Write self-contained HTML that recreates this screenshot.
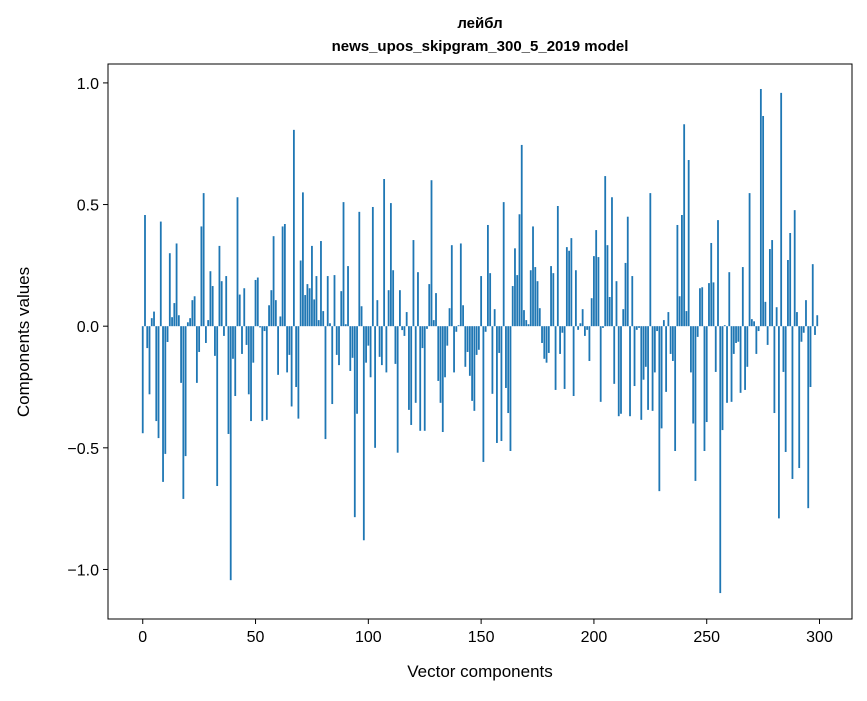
<!DOCTYPE html>
<html><head><meta charset="utf-8"><style>
body{margin:0;background:#fff;}
svg text{font-family:"Liberation Sans","DejaVu Sans",sans-serif;fill:#000;}
</style></head><body>
<svg id="chart" width="867" height="696" xmlns="http://www.w3.org/2000/svg">
<rect width="867" height="696" fill="#fff"/>
<text x="480" y="28" text-anchor="middle" font-size="15" font-weight="bold">лейбл</text>
<text x="480" y="51" text-anchor="middle" font-size="15" font-weight="bold">news_upos_skipgram_300_5_2019 model</text>
<g id="bars"></g>
<g id="axes"></g>
<text x="480" y="677" text-anchor="middle" font-size="17">Vector components</text>
<text transform="translate(29,342) rotate(-90)" text-anchor="middle" font-size="17">Components values</text>
</svg>
<script>
const values = [
-0.44,0.457,-0.09,-0.28,0.033,0.06,-0.39,-0.46,0.43,-0.64,
-0.525,-0.065,0.30,0.037,0.095,0.34,0.045,-0.233,-0.71,-0.534,
0.016,0.033,0.107,0.123,-0.233,-0.106,0.41,0.547,-0.069,0.025,
0.226,0.165,-0.122,-0.657,0.33,0.185,-0.04,0.206,-0.443,-1.044,
-0.134,-0.287,0.53,0.13,-0.114,0.156,-0.077,-0.28,-0.39,-0.15,
0.19,0.2,-0.005,-0.39,-0.02,-0.385,0.086,0.148,0.37,0.107,
-0.2,0.04,0.41,0.42,-0.19,-0.118,-0.33,0.807,-0.25,-0.38,
0.27,0.55,0.128,0.173,0.156,0.33,0.11,0.206,0.025,0.35,
0.062,-0.464,0.206,0.012,-0.32,0.21,-0.118,-0.16,0.144,0.51,
0.008,0.247,-0.184,-0.13,-0.785,-0.36,0.47,0.082,-0.88,-0.15,
-0.08,-0.21,0.49,-0.5,0.107,-0.126,-0.16,0.605,-0.19,0.148,
0.506,0.23,-0.155,-0.52,0.148,-0.016,-0.04,0.058,-0.344,-0.406,
0.354,-0.315,0.222,-0.43,-0.09,-0.43,-0.011,0.173,0.6,0.025,
0.136,-0.225,-0.315,-0.435,-0.21,-0.08,0.074,0.333,-0.19,-0.023,
0.004,0.34,0.086,-0.167,-0.106,-0.204,-0.307,-0.348,-0.118,-0.097,
0.206,-0.558,-0.023,0.416,0.218,-0.278,0.07,-0.48,-0.11,-0.472,
0.51,-0.254,-0.357,-0.513,0.165,0.32,0.21,0.46,0.745,0.066,
0.025,0.008,0.23,0.41,0.243,0.185,0.074,-0.069,-0.134,-0.15,
-0.11,0.247,0.218,-0.262,0.494,-0.114,-0.027,-0.258,0.325,0.31,
0.362,-0.287,0.23,-0.015,0.012,0.07,-0.04,-0.015,-0.143,0.115,
0.288,0.395,0.284,-0.311,-0.007,0.617,0.333,0.12,0.53,-0.237,
0.185,-0.37,-0.36,0.07,0.26,0.45,-0.37,0.206,-0.246,-0.015,
-0.007,-0.385,-0.22,-0.167,-0.344,0.547,-0.348,-0.19,-0.02,-0.678,
-0.42,0.025,-0.27,0.058,-0.114,-0.143,-0.513,0.416,0.123,0.457,
0.83,0.062,0.683,-0.19,-0.4,-0.636,-0.044,0.156,0.16,-0.513,
-0.394,0.177,0.342,0.18,-0.188,0.436,-1.097,-0.427,0.004,-0.315,
0.222,-0.311,-0.114,-0.069,-0.064,-0.274,0.243,-0.262,-0.167,0.547,
0.029,0.02,-0.114,-0.02,0.975,0.864,0.1,-0.077,0.317,0.354,
-0.357,0.078,-0.79,0.959,-0.188,-0.517,0.272,0.383,-0.628,0.477,
0.058,-0.583,-0.064,-0.027,0.107,-0.748,-0.25,0.255,-0.036,0.045
];
const xTicks = [0,50,100,150,200,250,300];
const yTicks = [-1.0,-0.5,0.0,0.5,1.0];
const yTickLabels = ["\u22121.0","\u22120.5","0.0","0.5","1.0"];

const L=108,R=852,T=64,B=619;
const xMin=-15.4,xMax=314.4,yMin=-1.2036,yMax=1.0777;
const xs=v=>L+(v-xMin)/(xMax-xMin)*(R-L);
const ys=v=>B-(v-yMin)/(yMax-yMin)*(B-T);
const NS="http://www.w3.org/2000/svg";
const bars=document.getElementById('bars');
values.forEach((v,i)=>{
  const r=document.createElementNS(NS,'rect');
  const x0=xs(i-0.4),x1=xs(i+0.4);
  const y0=ys(Math.max(v,0)),y1=ys(Math.min(v,0));
  r.setAttribute('x',x0);r.setAttribute('width',x1-x0);
  r.setAttribute('y',y0);r.setAttribute('height',Math.max(y1-y0,0.3));
  r.setAttribute('fill','#1f77b4');
  
  
  bars.appendChild(r);
});
const ax=document.getElementById('axes');
const frame=document.createElementNS(NS,'rect');
frame.setAttribute('x',L);frame.setAttribute('y',T);frame.setAttribute('width',R-L);frame.setAttribute('height',B-T);
frame.setAttribute('fill','none');frame.setAttribute('stroke','#000');frame.setAttribute('stroke-width','1');


ax.appendChild(frame);
xTicks.forEach(t=>{
  const x=xs(t);
  const l=document.createElementNS(NS,'line');
  l.setAttribute('x1',x);l.setAttribute('x2',x);l.setAttribute('y1',B);l.setAttribute('y2',B+5);l.setAttribute('stroke','#000');
  
  
  ax.appendChild(l);
  const tx=document.createElementNS(NS,'text');
  tx.setAttribute('x',x);tx.setAttribute('y',B+23);tx.setAttribute('text-anchor','middle');tx.setAttribute('font-size','16');
  tx.textContent=t;
  
  
  ax.appendChild(tx);
});
yTicks.forEach((t,i)=>{
  const y=ys(t);
  const l=document.createElementNS(NS,'line');
  l.setAttribute('x1',L-5);l.setAttribute('x2',L);l.setAttribute('y1',y);l.setAttribute('y2',y);l.setAttribute('stroke','#000');
  
  
  ax.appendChild(l);
  const tx=document.createElementNS(NS,'text');
  tx.setAttribute('x',L-9);tx.setAttribute('y',y+6);tx.setAttribute('text-anchor','end');tx.setAttribute('font-size','16');
  tx.textContent=yTickLabels[i];
  
  
  ax.appendChild(tx);
});
</script>
</body></html>
